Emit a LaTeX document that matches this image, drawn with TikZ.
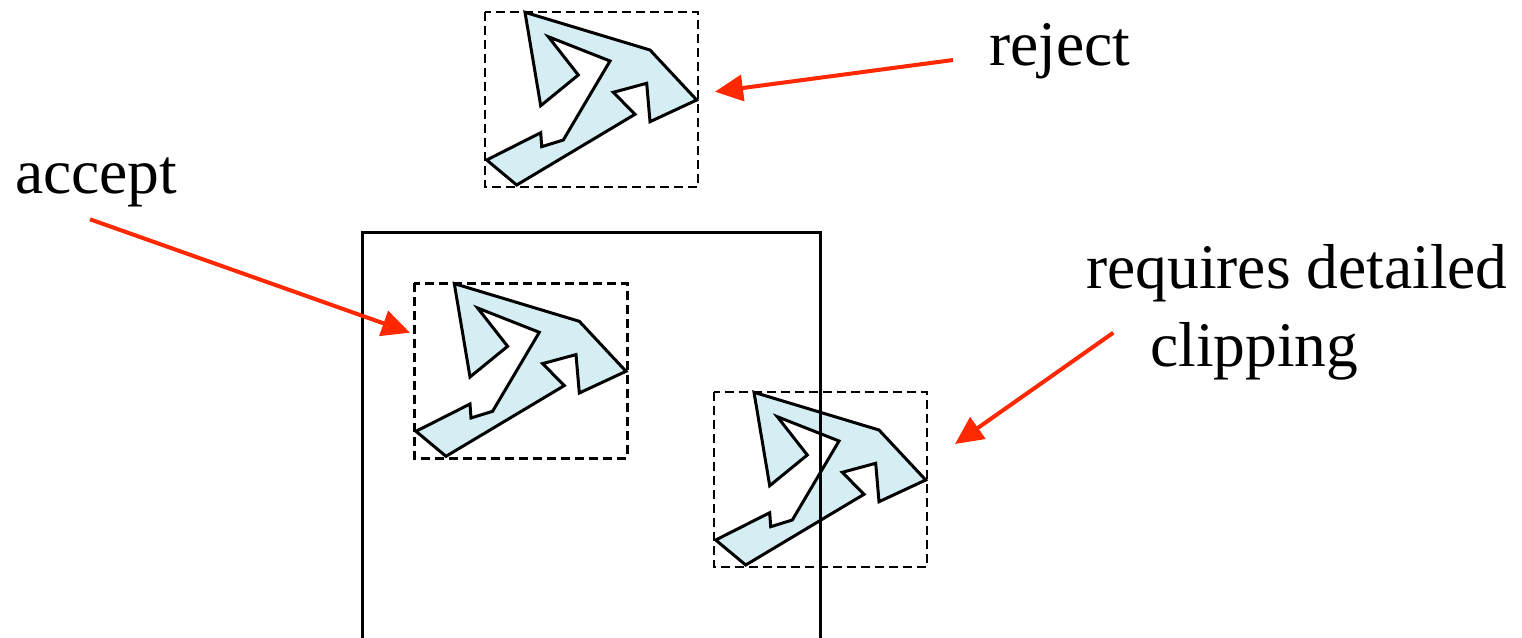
\documentclass[tikz,border=0pt]{standalone}
\usepackage{fontspec}
\setmainfont{Liberation Serif}
\usetikzlibrary{arrows.meta}
\definecolor{polyfill}{RGB}{212,238,244}
\definecolor{arrowred}{RGB}{255,40,0}
\begin{document}
\begin{tikzpicture}[x=1pt,y=-1pt,
  lbl/.style={inner sep=0pt, font=\fontsize{63.5pt}{78pt}\selectfont, anchor=base west},
  polyline/.style={draw=black, fill=polyfill, line width=3pt, line join=miter},
  dashbox/.style={draw=black, line width=2.6pt, dash pattern=on 9pt off 5pt},
  solidbox/.style={draw=black, line width=3pt},
  redarrow/.style={draw=arrowred, line width=4pt, -{Triangle[length=28pt,width=26pt]}},
  clipobj/.pic={
    \draw[polyline] (40,0.3) -- (165,38) -- (211.7,88) -- (165,109.7) -- (161.7,71.3)
      -- (128.3,80.3) -- (150,102.3) -- (31.7,173) -- (1.7,148) -- (55.7,120.7)
      -- (56.7,134.7) -- (78.3,128) -- (125,49) -- (63.3,24.7) -- (93.3,63)
      -- (55.7,93.7) -- cycle;
    \draw[dashbox] (0,0) rectangle (213,175);
  }]
\useasboundingbox (0,0) rectangle (1522,637);
\clip (0,0) rectangle (1522,637);
\fill[white] (0,0) rectangle (1522,637);

% objects
\pic (top) at (485,12) {clipobj};
\pic (mid) at (414.3,283.3) {clipobj};
\pic (right) at (714,392) {clipobj};

% clipping window
\draw[solidbox] (362.7,645) -- (362.7,232.7) -- (820,232.7) -- (820,645);

% labels
\node[lbl] (reject) at (989,65) {reject};
\node[lbl] (accept) at (15,193.3) {accept};
\node[lbl] (req) at (1086,288.3) {requires detailed};
\node[lbl] (clipping) at (1150,366.7) {clipping};

% arrows
\coordinate (rejT) at (953,60);
\coordinate (rejH) at (715,91.7);
\coordinate (accT) at (90,219.3);
\coordinate (accH) at (410,332.7);
\coordinate (clpT) at (1113.3,332.7);
\coordinate (clpH) at (955,444);
\draw[redarrow] (rejT) -- (rejH);
\draw[redarrow] (accT) -- (accH);
\draw[redarrow] (clpT) -- (clpH);
\end{tikzpicture}
\end{document}
